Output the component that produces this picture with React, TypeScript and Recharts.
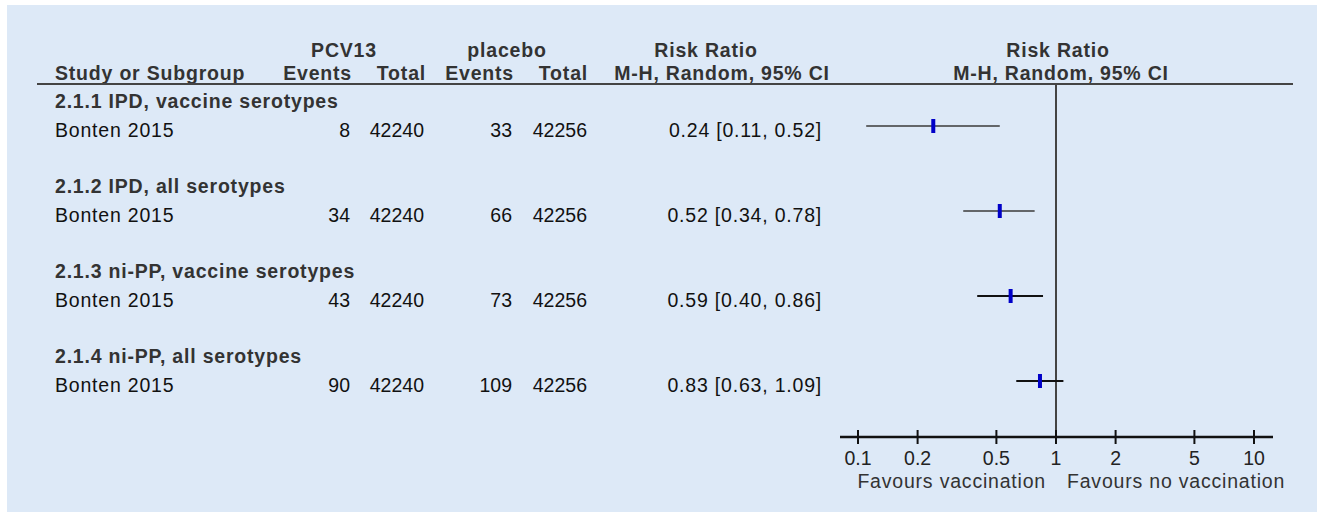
import React from 'react';
import { ScatterChart, Scatter, XAxis, YAxis, ReferenceLine } from 'recharts';

// study data (Bonten 2015, four outcomes)
const subgroups = [
  '2.1.1 IPD, vaccine serotypes',
  '2.1.2 IPD, all serotypes',
  '2.1.3 ni-PP, vaccine serotypes',
  '2.1.4 ni-PP, all serotypes',
];
const studyNames = ['Bonten 2015', 'Bonten 2015', 'Bonten 2015', 'Bonten 2015'];
const pcvEvents = [8, 34, 43, 90];
const pcvTotal = [42240, 42240, 42240, 42240];
const placeboEvents = [33, 66, 73, 109];
const placeboTotal = [42256, 42256, 42256, 42256];
const riskRatio = [0.24, 0.52, 0.59, 0.83];
const ciLow = [0.11, 0.34, 0.4, 0.63];
const ciHigh = [0.52, 0.78, 0.86, 1.09];
const xTicks = [0.1, 0.2, 0.5, 1, 2, 5, 10];

const FONT = '"Liberation Sans", Arial, sans-serif';
const W = 1321;
const H = 515;
const PLOT_TOP = 84;
const PLOT_BOTTOM = 437;
const FIRST_ROW = 126;
const ROW_GAP = 85;
const FS = 19.5;
const LS = 0.8;

const data = riskRatio.map((rr, i) => ({
  row: i,
  rr,
  lo: ciLow[i],
  hi: ciHigh[i],
  subgroup: subgroups[i],
  study: studyNames[i],
  pe: pcvEvents[i],
  pt: pcvTotal[i],
  qe: placeboEvents[i],
  qt: placeboTotal[i],
}));

const fmt = (v: number) => v.toFixed(2);

const RowShape = (props: any) => {
  const { cx, cy, payload } = props;
  const base = cy + 11;
  const txt = { fontFamily: FONT, fontSize: FS, fill: '#111', letterSpacing: LS };
  const num = { fontFamily: FONT, fontSize: FS, fill: '#111' };
  return (
    <g>
      <text x={55} y={cy - 18} style={{ ...txt, fontWeight: 700, fill: '#333' }}>
        {payload.subgroup}
      </text>
      <text x={55} y={base} style={txt}>{payload.study}</text>
      <text x={350} y={base} textAnchor="end" style={num}>{payload.pe}</text>
      <text x={424} y={base} textAnchor="end" style={num}>{payload.pt}</text>
      <text x={512} y={base} textAnchor="end" style={num}>{payload.qe}</text>
      <text x={587} y={base} textAnchor="end" style={num}>{payload.qt}</text>
      <text x={822} y={base} textAnchor="end" style={txt}>
        {`${fmt(payload.rr)} [${fmt(payload.lo)}, ${fmt(payload.hi)}]`}
      </text>
      <rect x={cx - 2} y={cy - 7} width={4} height={14} fill="#0000c8" />
    </g>
  );
};

const AxisTick = (props: any) => {
  const { x, y, payload } = props;
  return (
    <g>
      <line x1={x} x2={x} y1={y - 7} y2={y + 7} stroke="#111" strokeWidth={2} />
      <text x={x} y={y + 28} textAnchor="middle" style={{ fontFamily: FONT, fontSize: FS, fill: '#222' }}>
        {String(payload.value)}
      </text>
    </g>
  );
};

export default function App() {
  const yDomain = [(PLOT_TOP - FIRST_ROW) / ROW_GAP, (PLOT_BOTTOM - FIRST_ROW) / ROW_GAP];
  const bold = { fontFamily: FONT, fontSize: FS, fontWeight: 700, fill: '#333', letterSpacing: LS } as const;
  const reg = { fontFamily: FONT, fontSize: FS, fill: '#333', letterSpacing: LS } as const;

  return (
    <div style={{ position: 'absolute', left: 0, top: 0, width: W, height: H, background: '#fff' }}>
      <div style={{ position: 'absolute', left: 7, top: 5, width: 1310, height: 507, background: '#dde9f7' }} />
      <div style={{ position: 'absolute', left: 0, top: 0 }}>
        <ScatterChart width={W} height={H} margin={{ top: PLOT_TOP, left: 840, right: 48, bottom: 18 }}>
          <XAxis
            type="number"
            dataKey="rr"
            scale="log"
            domain={[0.1, 10]}
            ticks={xTicks}
            padding={{ left: 18, right: 19 }}
            height={60}
            axisLine={{ stroke: '#111', strokeWidth: 2.5 }}
            tickLine={false}
            tickSize={0}
            tickMargin={0}
            interval={0}
            tick={AxisTick}
          />
          <YAxis type="number" dataKey="row" domain={yDomain} reversed hide />
          <ReferenceLine x={1} stroke="#444" strokeWidth={2} />
          {data.map((d, i) => (
            <ReferenceLine
              key={`ci-${i}`}
              segment={[{ x: d.lo, y: d.row }, { x: d.hi, y: d.row }]}
              stroke={i < 2 ? '#3a3a3a' : '#111'}
              strokeWidth={i < 2 ? 1.6 : 2.2}
            />
          ))}
          <Scatter data={data} shape={RowShape} isAnimationActive={false} />
        </ScatterChart>
      </div>
      <svg width={W} height={H} style={{ position: 'absolute', left: 0, top: 0, pointerEvents: 'none' }}>
        <text x={344} y={57} textAnchor="middle" style={bold}>PCV13</text>
        <text x={507} y={57} textAnchor="middle" style={bold}>placebo</text>
        <text x={706} y={57} textAnchor="middle" style={bold}>Risk Ratio</text>
        <text x={1058} y={57} textAnchor="middle" style={bold}>Risk Ratio</text>
        <text x={55} y={80} style={bold}>Study or Subgroup</text>
        <text x={352} y={80} textAnchor="end" style={bold}>Events</text>
        <text x={426} y={80} textAnchor="end" style={bold}>Total</text>
        <text x={514} y={80} textAnchor="end" style={bold}>Events</text>
        <text x={588} y={80} textAnchor="end" style={bold}>Total</text>
        <text x={722} y={80} textAnchor="middle" style={bold}>M-H, Random, 95% CI</text>
        <text x={1061} y={80} textAnchor="middle" style={bold}>M-H, Random, 95% CI</text>
        <line x1={37} x2={1293} y1={84} y2={84} stroke="#444" strokeWidth={2} />
        <text x={1046} y={488} textAnchor="end" style={reg}>Favours vaccination</text>
        <text x={1067} y={488} style={reg}>Favours no vaccination</text>
      </svg>
    </div>
  );
}
